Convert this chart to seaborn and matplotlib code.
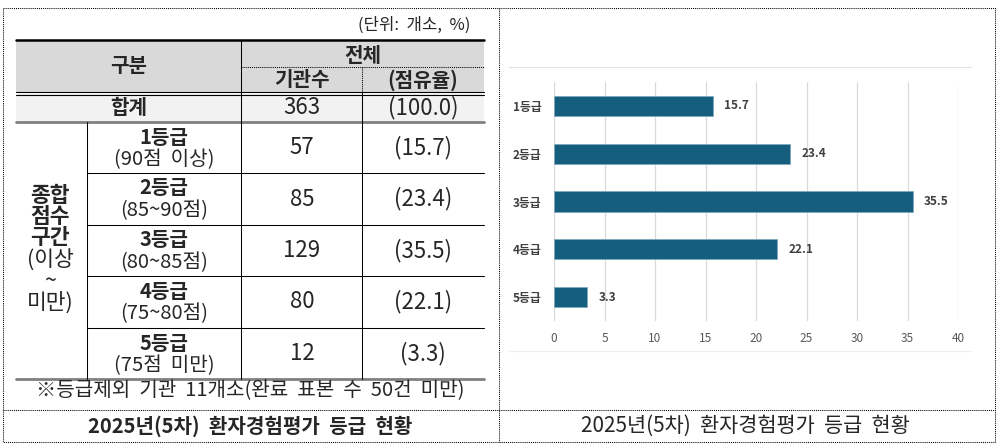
import matplotlib
matplotlib.use("Agg")
import matplotlib.pyplot as plt
import seaborn as sns
import pandas as pd

# ---------------- data ----------------
grades = ["1등급", "2등급", "3등급", "4등급", "5등급"]
ranges = ["(90점  이상)", "(85~90점)", "(80~85점)", "(75~80점)", "(75점  미만)"]
counts = [57, 85, 129, 80, 12]
shares = [15.7, 23.4, 35.5, 22.1, 3.3]
total_count = 363
total_share = 100.0
unit_label = "(단위:  개소,  %)"
group_label = ["종합", "점수", "구간", "(이상", "~", "미만)"]
note = "※등급제외  기관  11개소(완료  표본  수  50건  미만)"
caption = "2025년(5차)  환자경험평가  등급  현황"
x_ticks = [0, 5, 10, 15, 20, 25, 30, 35, 40]

sns.set_theme(style="white")
plt.rcParams["font.family"] = ["Noto Sans CJK KR", "DejaVu Sans"]

W, H = 1001, 447
fig = plt.figure(figsize=(W / 100, H / 100), dpi=100)
fig.patch.set_facecolor("white")

# background axes in pixel coords
bg = fig.add_axes([0, 0, 1, 1])
bg.set_xlim(0, W)
bg.set_ylim(H, 0)
bg.axis("off")

dot = (0, (1, 1))
lw1 = 0.75
# outer dotted frame and dividers
bg.plot([3, 995, 995, 3, 3], [8, 8, 442, 442, 8], color="black", lw=lw1, ls=dot)
bg.plot([499, 499], [8, 442], color="black", lw=lw1, ls=dot)
bg.plot([3, 995], [410, 410], color="black", lw=lw1, ls=dot)

# ---------------- table ----------------
TL, TR = 16, 484
C1, C2, C3 = 87, 241, 362
top, hdr_mid, hdr_bot, tot_bot = 40, 67, 92, 122
row_edges = [122, 173, 225, 276, 328, 379]

bg.add_patch(plt.Rectangle((TL, top), TR - TL, hdr_bot - top, color="#d9d9d9", lw=0, zorder=0))
bg.add_patch(plt.Rectangle((TL, hdr_bot + 2), TR - TL, tot_bot - hdr_bot - 2, color="#f2f2f2", lw=0, zorder=0))

bg.plot([TL, TR], [top, top], color="black", lw=1.8)
bg.plot([TL, TR], [hdr_bot - 0.5, hdr_bot - 0.5], color="black", lw=0.8)
bg.plot([TL, TR], [hdr_bot + 2.5, hdr_bot + 2.5], color="black", lw=0.8)
bg.plot([TL, TR], [tot_bot, tot_bot], color="#808080", lw=2)
bg.plot([TL, TR], [row_edges[-1], row_edges[-1]], color="#808080", lw=2)
bg.plot([C2, TR], [hdr_mid, hdr_mid], color="black", lw=lw1, ls=dot)
bg.plot([C3, C3], [hdr_mid, hdr_bot], color="black", lw=lw1, ls=dot)
bg.plot([C2, C2], [top, row_edges[-1]], color="black", lw=lw1)
bg.plot([C3, C3], [hdr_bot, row_edges[-1]], color="black", lw=lw1)
bg.plot([C1, C1], [tot_bot, row_edges[-1]], color="black", lw=lw1)
for yy in row_edges[1:-1]:
    bg.plot([C1, TR], [yy, yy], color="black", lw=lw1)

fs = 14.5
fsn = 16
xc_lab = (TL + C2) / 2
xc_cnt = 302
xc_shr = 423
bg.text(470, 25, unit_label, ha="right", va="center", fontsize=12)
bg.text(xc_lab, 65, "구분", ha="center", va="center", fontsize=fs, fontweight="bold")
bg.text((C2 + TR) / 2, 55, "전체", ha="center", va="center", fontsize=fs, fontweight="bold")
bg.text(xc_cnt, 80, "기관수", ha="center", va="center", fontsize=fs, fontweight="bold")
bg.text(xc_shr, 80, "(점유율)", ha="center", va="center", fontsize=fs, fontweight="bold")

bg.text(xc_lab, 108, "합계", ha="center", va="center", fontsize=fs, fontweight="bold")
bg.text(xc_cnt, 108, f"{total_count}", ha="center", va="center", fontsize=fsn)
bg.text(xc_shr, 108, f"({total_share:.1f})", ha="center", va="center", fontsize=fsn)

xc_grade = (C1 + C2) / 2
for i, (g, r, c, s) in enumerate(zip(grades, ranges, counts, shares)):
    y0, y1 = row_edges[i], row_edges[i + 1]
    bg.text(xc_grade, y0 + 15, g, ha="center", va="center", fontsize=fs, fontweight="bold")
    bg.text(xc_grade, y0 + 38, r, ha="center", va="center", fontsize=fs)
    bg.text(xc_cnt, (y0 + y1) / 2, f"{c}", ha="center", va="center", fontsize=fsn)
    bg.text(xc_shr, (y0 + y1) / 2, f"({s:.1f})", ha="center", va="center", fontsize=fsn)

for k, t in enumerate(group_label):
    bg.text(50, 195 + 21.5 * k, t, ha="center", va="center", fontsize=fs + 1,
            fontweight="bold" if k < 3 else "normal")

bg.text(250, 391, note, ha="center", va="center", fontsize=fs)
bg.text(250, 426, caption, ha="center", va="center", fontsize=fs, fontweight="bold")
bg.text(745, 426, caption, ha="center", va="center", fontsize=15)

# chart frame lines
bg.plot([509, 971], [67, 67], color="#e3e3e3", lw=0.9)
bg.plot([509, 971], [351, 351], color="#f0f0f0", lw=0.9)

# ---------------- bar chart ----------------
px0, px1, py0, py1 = 554, 958, 82, 321
ax = fig.add_axes([px0 / W, 1 - py1 / H, (px1 - px0) / W, (py1 - py0) / H])
df = pd.DataFrame({"grade": grades, "share": shares})
sns.barplot(data=df, y="grade", x="share", orient="h", color="#165e7d",
            width=0.42, edgecolor="#7fa9bf", linewidth=0.6, saturation=1, ax=ax, zorder=3)
ax.set_xlim(0, 40)
ax.set_ylim(len(grades) - 0.5, -0.5)
ax.set_xticks(x_ticks)
ax.set_xticklabels([str(t) for t in x_ticks], fontsize=8.5, color="#595959")
ax.set_yticks(range(len(grades)))
ax.set_yticklabels(grades, fontsize=8.5, color="#404040", fontweight="bold")
ax.tick_params(axis="x", length=0, pad=8)
ax.tick_params(axis="y", length=0, pad=9)
ax.set_xlabel("")
ax.set_ylabel("")
ax.grid(axis="x", color="#d9d9d9", lw=0.9, zorder=0)
ax.grid(axis="y", visible=False)
for sp in ax.spines.values():
    sp.set_visible(False)
ax.set_facecolor("none")
for cont in ax.containers:
    ax.bar_label(cont, fmt="%.1f", padding=8, fontsize=8.5, color="#404040", fontweight="bold")

fig.savefig("out.png", dpi=100, facecolor="white")
